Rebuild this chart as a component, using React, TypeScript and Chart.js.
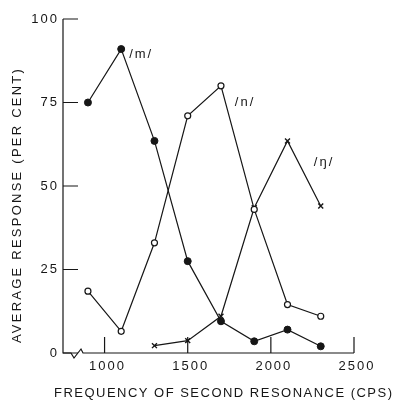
import React, { useEffect, useRef } from "react";
import { Chart, registerables } from "chart.js";

Chart.register(...registerables);

// ---- data ----
const frequencies = [900, 1100, 1300, 1500, 1700, 1900, 2100, 2300];
const mResponse = [75, 91, 63.5, 27.5, 9.5, 3.5, 7, 2];
const nResponse = [18.5, 6.5, 33, 71, 80, 43, 14.5, 11];
const ngFrequencies = [1300, 1500, 1700, 1900, 2100, 2300];
const ngResponse = [2.2, 3.7, 11, 43.5, 63.5, 44];

const xTicks = [1000, 1500, 2000, 2500];
const yTicks = [0, 25, 50, 75, 100];

const seriesLabels = ["/m/", "/n/", "/ŋ/"];
const labelFreq = [1220, 1845, 2320];
const labelResp = [89.5, 75, 57];

const xTitle = "FREQUENCY OF SECOND RESONANCE (CPS)";
const yTitle = "AVERAGE RESPONSE (PER CENT)";

const INK = "#161616";
const FONT = '"Liberation Sans", "DejaVu Sans", Arial, sans-serif';

function spaced(ctx: CanvasRenderingContext2D, text: string, target: number) {
  ctx.letterSpacing = "0px";
  const w = ctx.measureText(text).width;
  const sp = Math.max(0, (target - w) / Math.max(1, text.length - 1));
  ctx.letterSpacing = sp + "px";
}

const paperAxes = {
  id: "paperAxes",
  beforeDatasetsDraw(chart: any) {
    const { ctx, chartArea, scales } = chart;
    const xs = scales.x;
    const ys = scales.y;
    const x0 = chartArea.left;
    const yb = ys.getPixelForValue(0);
    const yt = ys.getPixelForValue(100);
    const xr = xs.getPixelForValue(2500);
    ctx.save();
    ctx.strokeStyle = INK;
    ctx.lineWidth = 1.2;
    ctx.lineJoin = "miter";
    ctx.beginPath();
    ctx.moveTo(x0, yt);
    ctx.lineTo(x0, yb);
    ctx.lineTo(x0 + 8, yb);
    ctx.lineTo(x0 + 11, yb + 5);
    ctx.lineTo(x0 + 18, yb - 4);
    ctx.lineTo(x0 + 20, yb);
    ctx.lineTo(xr, yb);
    ctx.stroke();
    ctx.beginPath();
    yTicks.forEach((v) => {
      const py = ys.getPixelForValue(v);
      ctx.moveTo(x0, py);
      ctx.lineTo(x0 + 15, py);
    });
    xTicks.forEach((v) => {
      const px = xs.getPixelForValue(v);
      ctx.moveTo(px, yb);
      ctx.lineTo(px, yb - 16);
    });
    ctx.stroke();

    ctx.fillStyle = INK;
    ctx.font = "13px " + FONT;
    ctx.letterSpacing = "2px";
    ctx.textAlign = "right";
    ctx.textBaseline = "middle";
    yTicks.forEach((v) => {
      ctx.fillText(String(v), x0 - 4, ys.getPixelForValue(v));
    });
    ctx.textAlign = "center";
    ctx.textBaseline = "top";
    xTicks.forEach((v) => {
      ctx.fillText(String(v), xs.getPixelForValue(v) + 3, yb + 7);
    });

    ctx.font = "13px " + FONT;
    ctx.textBaseline = "middle";
    spaced(ctx, xTitle, 338);
    ctx.textAlign = "left";
    ctx.fillText(xTitle, 54, 393);

    ctx.save();
    ctx.translate(17, 205);
    ctx.rotate(-Math.PI / 2);
    spaced(ctx, yTitle, 274);
    ctx.textAlign = "center";
    ctx.fillText(yTitle, 0, 0);
    ctx.restore();

    ctx.font = "13px " + FONT;
    ctx.letterSpacing = "2px";
    ctx.textAlign = "center";
    ctx.textBaseline = "middle";
    seriesLabels.forEach((t, i) => {
      ctx.fillText(t, xs.getPixelForValue(labelFreq[i]), ys.getPixelForValue(labelResp[i]));
    });
    ctx.restore();
  },
};

export default function App() {
  const ref = useRef<HTMLCanvasElement>(null);
  useEffect(() => {
    document.body.style.margin = "0";
    const canvas = ref.current!;
    const line = { borderColor: INK, borderWidth: 1.2, tension: 0, showLine: true };
    const chart = new Chart(canvas, {
      type: "line",
      data: {
        datasets: [
          {
            ...line,
            label: seriesLabels[0],
            data: frequencies.map((f, i) => ({ x: f, y: mResponse[i] })),
            pointStyle: "circle",
            pointRadius: 3.5,
            pointBackgroundColor: INK,
            pointBorderColor: INK,
            pointBorderWidth: 1,
          },
          {
            ...line,
            label: seriesLabels[1],
            data: frequencies.map((f, i) => ({ x: f, y: nResponse[i] })),
            pointStyle: "circle",
            pointRadius: 3,
            pointBackgroundColor: "#ffffff",
            pointBorderColor: INK,
            pointBorderWidth: 1.2,
          },
          {
            ...line,
            label: seriesLabels[2],
            data: ngFrequencies.map((f, i) => ({ x: f, y: ngResponse[i] })),
            pointStyle: "crossRot",
            pointRadius: 3.5,
            pointBorderColor: INK,
            pointBorderWidth: 1.4,
          },
        ],
      },
      options: {
        animation: false,
        responsive: false,
        devicePixelRatio: 1,
        layout: { padding: { left: 63, right: 42, top: 19, bottom: 47 } },
        plugins: { legend: { display: false }, tooltip: { enabled: false } },
        scales: {
          x: { type: "linear", min: 750, max: 2500, display: false },
          y: { type: "linear", min: 0, max: 100, display: false },
        },
        elements: { line: { fill: false } },
      },
      plugins: [paperAxes],
    } as any);
    return () => chart.destroy();
  }, []);
  return (
    <div style={{ width: 396, height: 400 }}>
      <canvas ref={ref} width={396} height={400} />
    </div>
  );
}
